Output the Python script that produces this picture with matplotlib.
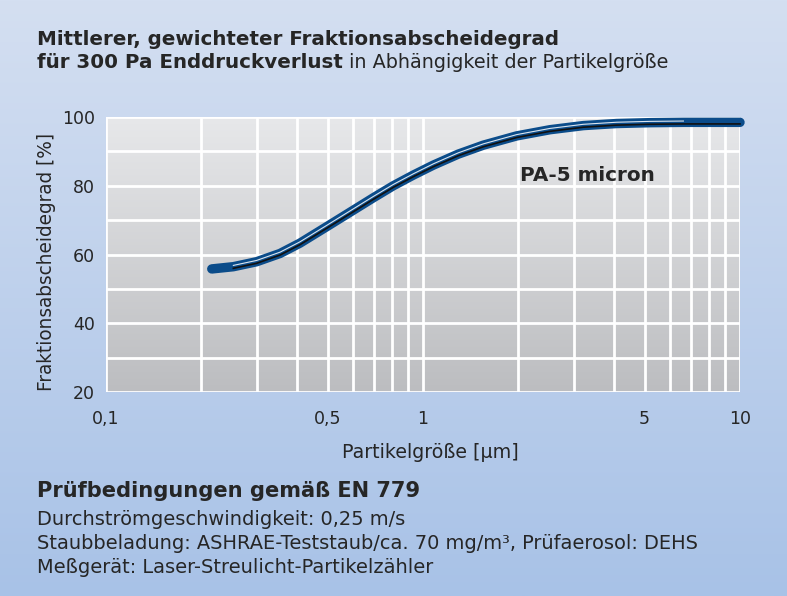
import numpy as np
import matplotlib
matplotlib.use("Agg")
import matplotlib.pyplot as plt
import matplotlib.transforms as mtransforms
from matplotlib.colors import LinearSegmentedColormap

# ---- data ----
particle_size = [0.2156, 0.2522, 0.2987, 0.354, 0.409, 0.497, 0.603, 0.697, 0.806,
                 0.932, 1.078, 1.292, 1.549, 1.975, 2.515, 3.205, 4.08, 5.2, 6.63, 10.0]
efficiency = [55.8, 56.45, 57.9, 60.3, 63.3, 68.1, 72.9, 76.5, 80.0,
              83.1, 86.0, 89.2, 91.8, 94.5, 96.3, 97.5, 98.1, 98.35, 98.45, 98.45]
x_ticks = [0.1, 0.5, 1, 5, 10]
x_ticklabels = ["0,1", "0,5", "1", "5", "10"]
y_ticks = [20, 40, 60, 80, 100]
y_ticklabels = ["20", "40", "60", "80", "100"]
series_label = "PA-5 micron"
label_pos = (2.02, 81.4)

title_bold1 = "Mittlerer, gewichteter Fraktionsabscheidegrad"
title_bold2 = "für 300 Pa Enddruckverlust"
title_reg2 = " in Abhängigkeit der Partikelgröße"
xlabel = "Partikelgröße [µm]"
ylabel = "Fraktionsabscheidegrad [%]"
cond_title = "Prüfbedingungen gemäß EN 779"
cond_lines = [
    "Durchströmgeschwindigkeit: 0,25 m/s",
    "Staubbeladung: ASHRAE-Teststaub/ca. 70 mg/m³, Prüfaerosol: DEHS",
    "Meßgerät: Laser-Streulicht-Partikelzähler",
]

TXT = "#262626"
plt.rcParams["font.family"] = ["DejaVu Sans"]

W, H = 787, 596
fig = plt.figure(figsize=(W / 100, H / 100), dpi=100)
renderer = fig.canvas.get_renderer()


def fit_size(s, target_w, weight="normal", base=13.0):
    t = fig.text(0, 0, s, fontsize=base, fontweight=weight)
    w = t.get_window_extent(renderer).width
    t.remove()
    return base * target_w / w


# background gradient
bg = fig.add_axes([0, 0, 1, 1], zorder=-10)
bg_cmap = LinearSegmentedColormap.from_list("bg", ["#d4dff1", "#a8c2e7"])
bg.imshow(np.linspace(0, 1, 256).reshape(-1, 1), aspect="auto", cmap=bg_cmap,
          extent=[0, 1, 0, 1], origin="upper")
bg.set_axis_off()

L, R, T, B = 106, 740, 117, 392
ax = fig.add_axes([L / W, 1 - B / H, (R - L) / W, (B - T) / H])
ax.set_xscale("log")
ax.set_xlim(0.1, 10)
ax.set_ylim(20, 100)

pa_cmap = LinearSegmentedColormap.from_list("pa", ["#e7e8ea", "#bcbdc0"])
ax.imshow(np.linspace(0, 1, 256).reshape(-1, 1), aspect="auto", cmap=pa_cmap,
          extent=[0, 1, 0, 1], origin="upper", transform=ax.transAxes, zorder=0)

for s in ax.spines.values():
    s.set_visible(False)

tick_fs = 12.5
ax.set_xticks(x_ticks)
ax.set_xticklabels(x_ticklabels)
ax.set_xticks([m * d for d in (0.1, 1) for m in range(2, 10)], minor=True)
ax.set_yticks(y_ticks)
ax.set_yticklabels(y_ticklabels)
ax.set_yticks(list(range(30, 100, 20)), minor=True)
ax.grid(True, which="both", color="white", lw=2.0, zorder=1)
ax.set_axisbelow(False)
ax.tick_params(which="both", length=0)
ax.tick_params(axis="x", pad=13, labelsize=tick_fs, labelcolor=TXT)
ax.tick_params(axis="y", pad=8, labelsize=tick_fs, labelcolor=TXT)

# curve: blue band with white highlight and dark inner shadow
hl = mtransforms.offset_copy(ax.transData, fig=fig, x=0, y=1.3, units="dots")
sh = mtransforms.offset_copy(ax.transData, fig=fig, x=0, y=-1.6, units="dots")
ax.plot(particle_size, efficiency, color="#0b4c8a", lw=6.8, solid_capstyle="round",
        solid_joinstyle="round", zorder=3, clip_on=False)
ax.plot(particle_size[1:], efficiency[1:], color="#111111", lw=1.2,
        solid_joinstyle="round", transform=sh, zorder=4, clip_on=False)
ax.plot(particle_size[1:-1], efficiency[1:-1], color="white", lw=0.8, alpha=0.85,
        solid_joinstyle="round", transform=hl, zorder=5, clip_on=False)

lab_fs = fit_size(series_label, 134, "bold")
ax.text(label_pos[0], label_pos[1], series_label, fontsize=lab_fs, fontweight="bold",
        color=TXT, va="baseline", ha="left", zorder=6)

# axis labels
xl_fs = fit_size(xlabel, 176)
fig.text(((L + R) / 2 + 7) / W, 1 - 458 / H, xlabel, fontsize=xl_fs, color=TXT,
         ha="center", va="baseline")
yl_fs = fit_size(ylabel, 259)
fig.text(47 / W, 1 - 262 / H, ylabel, fontsize=yl_fs, color=TXT, rotation=90,
         ha="center", va="center")

# titles
t_fs = fit_size(title_bold1, 520, "bold")
fig.text(37 / W, 1 - 45 / H, title_bold1, fontsize=t_fs, fontweight="bold",
         color=TXT, va="baseline", ha="left")
t2 = fig.text(37 / W, 1 - 68 / H, title_bold2, fontsize=t_fs, fontweight="bold",
              color=TXT, va="baseline", ha="left")
bb = t2.get_window_extent(renderer)
r_fs = fit_size(title_reg2, 668 - bb.x1)
fig.text(bb.x1 / W, 1 - 68 / H, title_reg2, fontsize=r_fs, color=TXT,
         va="baseline", ha="left")

c_fs = fit_size(cond_title, 380, "bold")
fig.text(37 / W, 1 - 497 / H, cond_title, fontsize=c_fs, fontweight="bold",
         color=TXT, va="baseline", ha="left")
l_fs = fit_size(cond_lines[1], 660)
for i, line in enumerate(cond_lines):
    fig.text(37 / W, 1 - (525 + 24 * i) / H, line, fontsize=l_fs, color=TXT,
             va="baseline", ha="left")

fig.savefig("out.png", dpi=100)
